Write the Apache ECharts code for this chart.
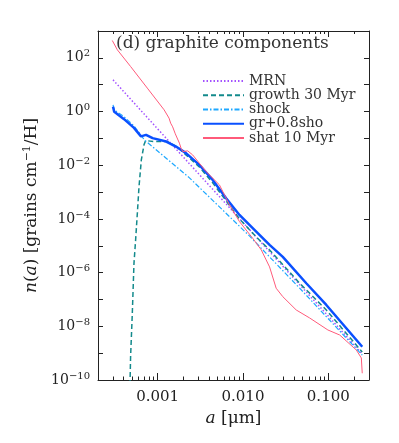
<!DOCTYPE html>
<html>
<head>
<meta charset="utf-8">
<script src="https://cdn.jsdelivr.net/npm/echarts@6/dist/echarts.min.js"></script>
<style>
html, body { margin: 0; padding: 0; background: #fff; }
#chart { width: 399px; height: 443px; }
</style>
</head>
<body>
<div id="chart"></div>
<script>
// grain size a [um] and n(a), one pair of arrays per curve
const mrnA = [0.0003, 0.001, 0.01, 0.1, 0.25];
const mrnN = [15.2, 0.226, 7.4e-5, 2.4e-8, 9.3e-10];

const growthA = [0.000474, 0.000482, 0.000505, 0.000528, 0.000552, 0.000578, 0.000605, 0.000644, 0.000692, 0.000723,
    0.000908, 0.0013, 0.0017, 0.00215, 0.00308, 0.00442, 0.00635, 0.0091, 0.0143, 0.0205, 0.0459, 0.0948, 0.25];
const growthN = [6.5e-11, 7.4e-10, 3.1e-8, 2.2e-6, 1.65e-5, 1.6e-4, 1.6e-3, 0.0158, 0.0574, 0.083,
    0.0762, 0.0762, 0.0483, 0.0243, 8.7e-3, 2.2e-3, 4.7e-4, 1.0e-4, 2.14e-5, 7.0e-6, 4.1e-7, 4.06e-8, 1.1e-9];

const shockA = [0.0003, 0.00031, 0.000404, 0.000528, 0.000638, 0.000699, 0.00236, 0.0119, 0.0459, 0.25];
const shockN = [1.78, 1.16, 0.634, 0.293, 0.130, 0.0881, 3.38e-3, 2.33e-5, 2.69e-7, 8.5e-10];

const mixA = [0.0003, 0.00031, 0.000404, 0.000528, 0.000638, 0.000731, 0.000873, 0.00126, 0.00164, 0.00215,
    0.00308, 0.00442, 0.00635, 0.0091, 0.0143, 0.0205, 0.0293, 0.0552, 0.0948, 0.25];
const mixN = [1.50, 0.975, 0.521, 0.247, 0.119, 0.135, 0.102, 0.0762, 0.0496, 0.0282,
    0.0103, 2.84e-3, 5.91e-4, 1.41e-4, 3.37e-5, 1.08e-5, 3.84e-6, 4.02e-7, 6.25e-8, 1.74e-9];

const shatA = [0.000294, 0.000337, 0.000482, 0.000757, 0.00119, 0.00136, 0.00142, 0.0015, 0.00161, 0.0018,
    0.00188, 0.00197, 0.00225, 0.00257, 0.0037, 0.0053, 0.00607, 0.00695, 0.0091, 0.013,
    0.0164, 0.0187, 0.0205, 0.0245, 0.0293, 0.0421, 0.0604, 0.0989, 0.136, 0.213, 0.244, 0.25];
const shatN = [443, 199, 47.5, 7.45, 1.16, 0.568, 0.370, 0.269, 0.148, 0.0664,
    0.0432, 0.0323, 0.0343, 0.0243, 5.8e-3, 1.85e-3, 7.86e-4, 3.33e-4, 7.94e-5, 1.91e-5,
    7.0e-6, 2.97e-6, 1.63e-6, 2.62e-7, 1.27e-7, 4.06e-8, 2.05e-8, 7.3e-9, 4.75e-9, 1.31e-9, 6.6e-10, 1.78e-10];

// axis ticks
const xRange = [0.0002, 0.3];
const xMajor = [0.001, 0.01, 0.1];
const xMinor = [0.0002, 0.0003, 0.0004, 0.0005, 0.0006, 0.0007, 0.0008, 0.0009,
    0.002, 0.003, 0.004, 0.005, 0.006, 0.007, 0.008, 0.009,
    0.02, 0.03, 0.04, 0.05, 0.06, 0.07, 0.08, 0.09, 0.2, 0.3];
const yRange = [-10, 3];
const yTicks = [-10, -9, -8, -7, -6, -5, -4, -3, -2, -1, 0, 1, 2, 3];
const yLabels = [-10, -8, -6, -4, -2, 0, 2];

const names = ['MRN', 'growth 30 Myr', 'shock', 'gr+0.8sho', 'shat 10 Myr'];

const FONT = 'DejaVu Serif';
const INK = '#222';

const chart = echarts.init(document.getElementById('chart'));

function toLog(a, n) {
    return a.map((v, i) => [Math.log10(v), Math.log10(n[i])]);
}
const lg = arr => arr.map(v => Math.log10(v));

function xAxisDef(pos, values, len, withLine, withLabel) {
    return {
        type: 'value',
        position: pos,
        min: Math.log10(xRange[0]),
        max: Math.log10(xRange[1]),
        splitLine: { show: false },
        axisLine: { show: withLine, onZero: false, lineStyle: { color: INK, width: 1 } },
        axisTick: { inside: true, length: len, customValues: values, lineStyle: { color: INK } },
        axisLabel: withLabel ? {
            customValues: values,
            formatter: v => Math.pow(10, v).toFixed(3),
            margin: 10,
            fontFamily: FONT,
            fontSize: 15,
            color: INK
        } : { show: false }
    };
}

function yAxisDef(pos, withLabel) {
    return {
        type: 'value',
        position: pos,
        min: yRange[0],
        max: yRange[1],
        splitLine: { show: false },
        axisLine: { show: true, onZero: false, lineStyle: { color: INK, width: 1 } },
        axisTick: { inside: true, length: 5, customValues: yTicks, lineStyle: { color: INK } },
        axisLabel: withLabel ? {
            customValues: yLabels,
            margin: 8,
            formatter: v => '{b|10}{s|' + (v < 0 ? '\u2212' + (-v) : v) + '}',
            rich: {
                b: { fontFamily: FONT, fontSize: 14, lineHeight: 18, color: INK },
                s: { fontFamily: FONT, fontSize: 10, lineHeight: 10, verticalAlign: 'top', color: INK }
            }
        } : { show: false }
    };
}

const bottom = xAxisDef('bottom', lg(xMajor), 7, true, true);
bottom.name = '{i|a} [\u03bcm]';
bottom.nameLocation = 'middle';
bottom.nameGap = 27;
bottom.nameTextStyle = {
    fontFamily: FONT, fontSize: 17, color: INK,
    rich: { i: { fontFamily: FONT, fontSize: 17, fontStyle: 'italic', color: INK } }
};

const left = yAxisDef('left', true);
left.name = '{i|n}({i|a}) [grains cm{s|\u22121}/H]';
left.nameLocation = 'middle';
left.nameRotate = 90;
left.nameGap = 55;
left.nameTextStyle = {
    fontFamily: FONT, fontSize: 17, color: INK,
    rich: {
        i: { fontFamily: FONT, fontSize: 17, fontStyle: 'italic', color: INK, lineHeight: 20 },
        s: { fontFamily: FONT, fontSize: 11, lineHeight: 11, verticalAlign: 'top', color: INK }
    }
};

function line(name, a, n, color, type, width) {
    return {
        name: name,
        type: 'line',
        data: toLog(a, n),
        symbol: 'none',
        clip: true,
        animation: false,
        lineStyle: { color: color, type: type, width: width },
        itemStyle: { color: color }
    };
}

const option = {
    animation: false,
    grid: { left: 98, right: 30, top: 31, bottom: 63, containLabel: false, outerBoundsMode: 'none' },
    title: {
        text: '(d) graphite components',
        left: 116, top: 35, padding: 0,
        textStyle: { fontFamily: FONT, fontSize: 17, fontWeight: 'normal', color: '#333' }
    },
    legend: {
        orient: 'vertical',
        left: 202, top: 74, padding: 0,
        itemWidth: 41, itemHeight: 11, itemGap: 0.25,
        selectedMode: false,
        data: names,
        itemStyle: { opacity: 0 },
        textStyle: { fontFamily: FONT, fontSize: 14, color: '#333', lineHeight: 11, height: 11 }
    },
    xAxis: [
        bottom,
        xAxisDef('bottom', lg(xMinor), 3.5, false, false),
        xAxisDef('top', lg(xMajor), 6, true, false),
        xAxisDef('top', lg(xMinor), 3, false, false)
    ],
    yAxis: [left, yAxisDef('right', false)],
    series: [
        line(names[0], mrnA, mrnN, '#a352ff', [1.5, 2], 1.5),
        line(names[1], growthA, growthN, '#138a8c', [5, 3], 1.5),
        line(names[2], shockA, shockN, '#1ea8ff', [5, 2, 1.5, 2], 1.2),
        line(names[3], mixA, mixN, '#0a50ff', 'solid', 2.5),
        line(names[4], shatA, shatN, '#ff5a7a', 'solid', 1)
    ]
};

chart.setOption(option);
</script>
</body>
</html>
